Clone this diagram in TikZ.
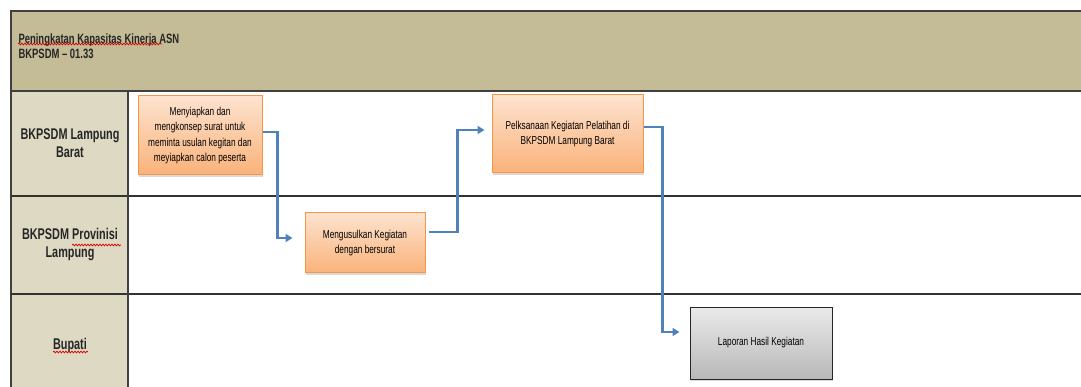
\documentclass[tikz,border=0pt]{standalone}
\usepackage{fontspec}
\setmainfont{Liberation Sans}[FakeStretch=0.7]
\newfontfamily\boxfont{Liberation Sans}[FakeStretch=0.72]
\usetikzlibrary{arrows.meta,shadows,decorations.pathmorphing,calc}
\definecolor{hdrfill}{HTML}{C4BC96}
\definecolor{lanefill}{HTML}{DDD9C3}
\definecolor{frame}{HTML}{404040}
\definecolor{orgline}{HTML}{F79646}
\definecolor{orgtop}{HTML}{FDE3CF}
\definecolor{orgbot}{HTML}{FAB27A}
\definecolor{arrblue}{HTML}{4F81BD}
\tikzset{
  lanelabel/.style={font=\bfseries\fontsize{15.5}{18}\selectfont, align=center, text=black!85},
  procbox/.style={draw=orgline, line width=1pt, top color=orgtop, bottom color=orgbot,
    align=center, font=\boxfont\fontsize{11.5}{15.5}\selectfont, inner sep=2pt,
    drop shadow={opacity=0.3, shadow xshift=1pt, shadow yshift=-2pt}},
  endbox/.style={draw=black!85, line width=1pt, top color=black!8, bottom color=black!28,
    align=center, font=\boxfont\fontsize{11.5}{15.5}\selectfont,
    drop shadow={opacity=0.3, shadow xshift=1pt, shadow yshift=-2pt}},
  flow/.style={draw=arrblue, line width=2.2pt, -{Triangle[length=7pt,width=8pt]}},
  spell/.style={draw=red!85!black, line width=0.7pt, decorate,
    decoration={snake, amplitude=0.9pt, segment length=3pt}},
  laneline/.style={draw=black!80, line width=1.6pt}
}
\begin{document}
\begin{tikzpicture}[x=1pt,y=-1pt]
\useasboundingbox (0,0) rectangle (1081,387);
% header
\fill[hdrfill] (11,11) rectangle (1081,91);
\draw[draw=frame, line width=2pt] (1081,11) -- (11,11) -- (11,387);
\draw[draw=frame, line width=2pt] (11,91) -- (1081,91);
\node[anchor=west, align=left, font=\bfseries\fontsize{13.5}{15.5}\selectfont, text=black!85] (title) at (15,46)
  {Peningkatan Kapasitas Kinerja ASN\\BKPSDM -- 01.33};
% lanes
\fill[lanefill] (12,92) rectangle (128,387);
\draw[laneline] (11,196) -- (1081,196);
\draw[laneline] (11,294) -- (1081,294);
\draw[draw=frame, line width=1.6pt] (128,91) -- (128,387);
\node[lanelabel] (l1) at (70,143) {BKPSDM Lampung\\Barat};
\node[lanelabel] (l2) at (70,245) {BKPSDM Provinisi\\Lampung};
\node[lanelabel] (l3) at (70,345) {Bupati};
% spell marks
\draw[spell] (18,44) -- (162,44);
\draw[spell] (72,245) -- (121,245);
\draw[spell] (53,352) -- (88,352);
% process boxes
\node[procbox, minimum width=124pt, minimum height=79pt] (b1) at (200,135.5)
  {Menyiapkan dan\\mengkonsep surat untuk\\meminta usulan kegitan dan\\meyiapkan calon peserta};
\node[procbox, minimum width=120pt, minimum height=60pt] (b2) at (365,243)
  {Mengusulkan Kegiatan\\dengan bersurat};
\node[procbox, minimum width=151pt, minimum height=78pt] (b3) at (567.5,134)
  {Pelksanaan Kegiatan Pelatihan di\\BKPSDM Lampung Barat};
\node[endbox, minimum width=142pt, minimum height=72pt] (b4) at (761,343)
  {Laporan Hasil Kegiatan};
% connectors
\draw[flow] ([yshift=3.5pt]b1.east) -- ++(15,0) |- ([xshift=-12pt,yshift=5pt]b2.west);
\draw[flow] ([xshift=3pt,yshift=11pt]b2.east) -- ++(29,0) |- ([xshift=-7pt,yshift=4pt]b3.west);
\draw[flow] ([yshift=7pt]b3.east) -- ++(19,0) |- ([xshift=-10pt,yshift=11pt]b4.west);
\end{tikzpicture}
\end{document}
